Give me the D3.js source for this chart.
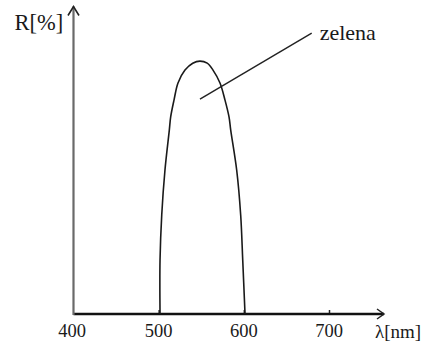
<!DOCTYPE html>
<html>
<head>
<meta charset="utf-8">
<script src="https://cdn.jsdelivr.net/npm/d3@7"></script>
</head>
<body style="margin:0">
<script>
// ---- data ----
const wavelengths = [501.6, 501.6, 503.6, 507.4, 512.5, 514.1, 518, 522.7, 530.9, 540, 548.5, 557, 563.8, 572, 577.9, 582.6, 584.6, 591.6, 596.3, 598.7, 601.4];
const reflectance = [0, 18, 33, 48, 61.3, 65.7, 71.3, 77, 81.3, 83.6, 84.3, 83.6, 81.3, 77, 71.3, 65.7, 61.3, 48, 33, 18, 0];
const xTicks = [400, 500, 600, 700];
const xTickLabels = ["400", "500", "600", "700"];
const seriesName = "zelena";
const leaderFrom = [548.5, 71.6];
const leaderTo = [679.7, 93.6];
const xAxisTitle = "λ[nm]";
const yAxisTitle = "R[%]";

// ---- layout ----
const W = 432, H = 349;
const FONT = "Liberation Serif";
const INK = "#1a1a1a";
const svg = d3.select("body").append("svg").attr("width", W).attr("height", H)
  .style("display", "block").attr("font-family", FONT);

const x = d3.scaleLinear().domain([400, 700]).range([73.5, 329]);
const y = d3.scaleLinear().domain([0, 100]).range([314, 14]);

// x axis ticks + labels
const xAxis = d3.axisBottom(x)
  .tickValues(xTicks)
  .tickFormat((d, i) => xTickLabels[i])
  .tickSizeInner(-4)
  .tickSizeOuter(0)
  .tickPadding(9.5);
const gx = svg.append("g").attr("transform", `translate(0,${y(0)})`).call(xAxis);
gx.attr("font-family", FONT).attr("font-size", 18.5);
gx.select(".domain").remove();
gx.selectAll(".tick line").attr("stroke", "#222").attr("stroke-width", 1.5)
  .filter(d => d === 400).remove();
gx.selectAll(".tick text")
  .attr("font-family", FONT)
  .attr("fill", INK)
  .attr("dx", d => d === 400 ? -2 : -0.5);

// x axis line with arrow
const xEnd = 384;
svg.append("line")
  .attr("x1", x(400)).attr("y1", y(0)).attr("x2", xEnd).attr("y2", y(0))
  .attr("stroke", "#111").attr("stroke-width", 2.6);
svg.append("path")
  .attr("d", `M${xEnd - 7},${y(0) - 5} L${xEnd},${y(0)} L${xEnd - 7},${y(0) + 5}`)
  .attr("fill", "none").attr("stroke", "#222").attr("stroke-width", 1.5);

// y axis line with arrow
const yTop = 6.5;
svg.append("line")
  .attr("x1", x(400)).attr("y1", y(0) + 1).attr("x2", x(400)).attr("y2", yTop)
  .attr("stroke", "#6a6a6a").attr("stroke-width", 2.2);
svg.append("path")
  .attr("d", `M${x(400) - 5.5},${yTop + 9} L${x(400)},${yTop} L${x(400) + 5.5},${yTop + 9}`)
  .attr("fill", "none").attr("stroke", "#222").attr("stroke-width", 1.6);

// curve
const pts = wavelengths.map((w, i) => [w, reflectance[i]]);
const line = d3.line()
  .x(d => x(d[0])).y(d => y(d[1]))
  .curve(d3.curveCatmullRom.alpha(0.5));
svg.append("path")
  .attr("d", line(pts))
  .attr("fill", "none").attr("stroke", INK).attr("stroke-width", 1.6);

// leader line + label
svg.append("line")
  .attr("x1", x(leaderFrom[0])).attr("y1", y(leaderFrom[1]))
  .attr("x2", x(leaderTo[0])).attr("y2", y(leaderTo[1]))
  .attr("stroke", "#222").attr("stroke-width", 1.4);
svg.append("text")
  .attr("x", x(leaderTo[0]) + 8).attr("y", 39.5)
  .attr("font-family", FONT).attr("font-size", 22).attr("fill", INK)
  .text(seriesName);

// axis titles
svg.append("text").attr("x", 375).attr("y", 338)
  .attr("font-family", FONT).attr("font-size", 19).attr("fill", INK)
  .text(xAxisTitle);
svg.append("text").attr("x", 14.5).attr("y", 29.5)
  .attr("font-family", FONT).attr("font-size", 22.5).attr("fill", INK)
  .text(yAxisTitle);
</script>
</body>
</html>
